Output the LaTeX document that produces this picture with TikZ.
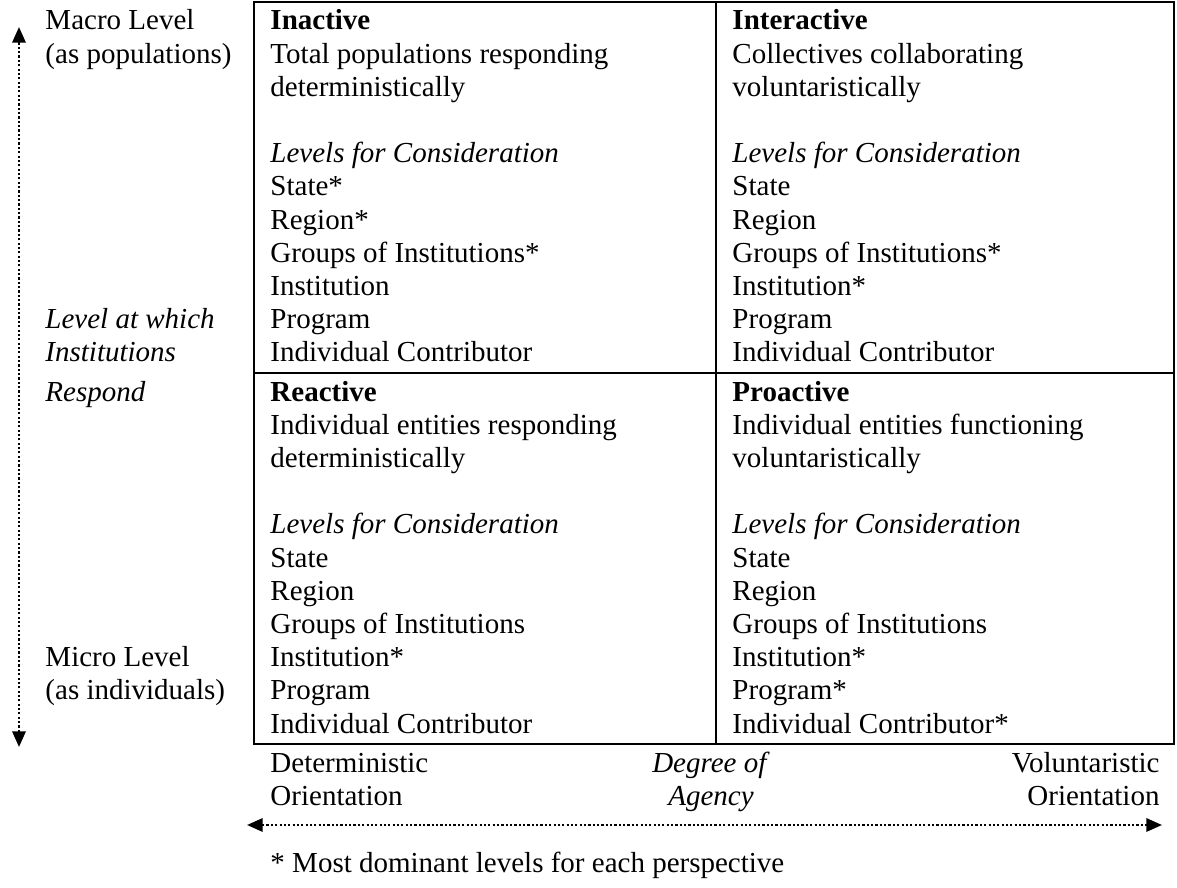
\documentclass[tikz,border=0pt]{standalone}
\usepackage{fontspec}
\setmainfont{Liberation Serif}
\usetikzlibrary{arrows.meta}

\begin{document}
\begin{tikzpicture}[x=0.4138pt,y=-0.4138pt,
  txt/.style={inner sep=0pt,font=\fontsize{12}{13.8}\selectfont},
  cell/.style={txt,anchor=base west},
  grid/.style={line width=0.8pt},
  axis/.style={line width=1pt,dash pattern=on 0.9pt off 0.9pt,
    {Triangle[length=6.5pt,width=5.5pt]}-{Triangle[length=6.5pt,width=5.5pt]}}]

  \useasboundingbox (0,0) rectangle (1177,888);

  \def\sp{33.2}
  \def\ytop{30}
  \def\ybot{401.2}

  \draw[grid] (254,2) rectangle (1174,744);
  \draw[grid] (716,2) -- (716,744);
  \draw[grid] (254,373) -- (1174,373);

  \foreach \t [count=\k from 0] in {\textbf{Inactive},Total populations responding,deterministically}
    \node[cell] (ina\k) at (270,{\ytop+\sp*\k}) {\t};
  \foreach \t [count=\k from 4] in {\textit{Levels for Consideration},State*,Region*,Groups of Institutions*,Institution,Program,Individual Contributor}
    \node[cell] (ina\k) at (270,{\ytop+\sp*\k}) {\t};

  \foreach \t [count=\k from 0] in {\textbf{Interactive},Collectives collaborating,voluntaristically}
    \node[cell] (int\k) at (732,{\ytop+\sp*\k}) {\t};
  \foreach \t [count=\k from 4] in {\textit{Levels for Consideration},State,Region,Groups of Institutions*,Institution*,Program,Individual Contributor}
    \node[cell] (int\k) at (732,{\ytop+\sp*\k}) {\t};

  \foreach \t [count=\k from 0] in {\textbf{Reactive},Individual entities responding,deterministically}
    \node[cell] (rea\k) at (270,{\ybot+\sp*\k}) {\t};
  \foreach \t [count=\k from 4] in {\textit{Levels for Consideration},State,Region,Groups of Institutions,Institution*,Program,Individual Contributor}
    \node[cell] (rea\k) at (270,{\ybot+\sp*\k}) {\t};

  \foreach \t [count=\k from 0] in {\textbf{Proactive},Individual entities functioning,voluntaristically}
    \node[cell] (pro\k) at (732,{\ybot+\sp*\k}) {\t};
  \foreach \t [count=\k from 4] in {\textit{Levels for Consideration},State,Region,Groups of Institutions,Institution*,Program*,Individual Contributor*}
    \node[cell] (pro\k) at (732,{\ybot+\sp*\k}) {\t};

  \node[cell] (macro) at (45,\ytop) {Macro Level};
  \node[cell] (macrob) at (45,{\ytop+\sp}) {(as populations)};
  \node[cell] (lvla) at (45,{\ytop+\sp*9}) {\textit{Level at which}};
  \node[cell] (lvlb) at (45,{\ytop+\sp*10}) {\textit{Institutions}};
  \node[cell] (lvlc) at (45,\ybot) {\textit{Respond}};
  \node[cell] (micro) at (45,{\ybot+\sp*8}) {Micro Level};
  \node[cell] (microb) at (45,{\ybot+\sp*9}) {(as individuals)};

  \coordinate (vtop) at (19,27);
  \coordinate (vbot) at (19,747);
  \draw[axis] (vbot) -- (vtop);

  \node[cell] (detl) at (270,773) {Deterministic};
  \node[cell] (detr) at (270,806) {Orientation};
  \node[txt,anchor=base] (agya) at (711,773) {\textit{Degree of}};
  \node[txt,anchor=base] (agyb) at (711,806) {\textit{Agency}};
  \node[txt,anchor=base east] (voll) at (1160,773) {Voluntaristic};
  \node[txt,anchor=base east] (volr) at (1160,806) {Orientation};

  \coordinate (hleft) at (247,825);
  \coordinate (hright) at (1162,825);
  \draw[axis] (hleft) -- (hright);

  \node[cell] (note) at (270,873) {* Most dominant levels for each perspective};

\end{tikzpicture}
\end{document}
